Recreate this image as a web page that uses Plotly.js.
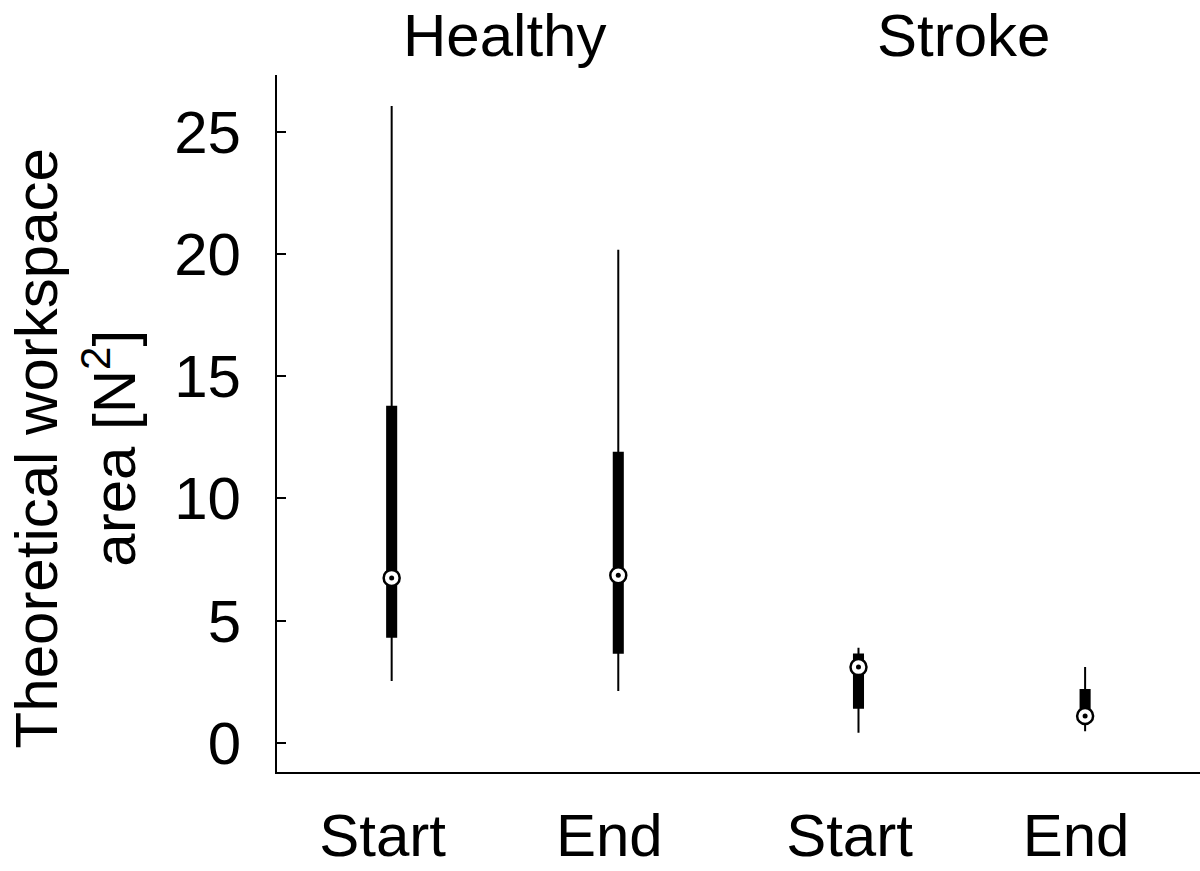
<!DOCTYPE html>
<html>
<head>
<meta charset="utf-8">
<script src="https://cdn.plot.ly/plotly-3.0.1.min.js"></script>
<style>
  html, body { margin: 0; padding: 0; background: #fff; }
  #chart { width: 1200px; height: 871px; }
</style>
</head>
<body>
<div id="chart"></div>
<script>
// group and condition labels
var groups = ["Healthy", "Stroke"];
var conditions = ["Start", "End", "Start", "End"];
var positions = [1, 2, 3.06, 4.06];

// box statistics (N^2)
var upperWhisker = [26.05, 20.17, 3.89, 3.10];
var q3 = [13.75, 11.87, 3.62, 2.16];
var medians = [6.75, 6.86, 3.10, 1.10];
var q1 = [4.34, 3.69, 1.44, 1.0];
var lowerWhisker = [2.53, 2.12, 0.42, 0.48];

var font = "Liberation Sans, Arial, Helvetica, sans-serif";

var boxes = {
  type: "box",
  x: positions,
  q1: q1,
  median: medians,
  q3: q3,
  lowerfence: lowerWhisker,
  upperfence: upperWhisker,
  width: 0.04,
  whiskerwidth: 0,
  fillcolor: "black",
  line: {color: "black", width: 2},
  boxpoints: false,
  showlegend: false,
  hoverinfo: "skip"
};

var medianRing = {
  type: "scatter",
  mode: "markers",
  x: positions,
  y: medians,
  marker: {symbol: "circle", size: 16, color: "white", line: {color: "black", width: 2.5}},
  showlegend: false,
  hoverinfo: "skip"
};

var medianDot = {
  type: "scatter",
  mode: "markers",
  x: positions,
  y: medians,
  marker: {symbol: "circle", size: 5, color: "black"},
  showlegend: false,
  hoverinfo: "skip"
};

// group headers centred over each pair
var annotations = groups.map(function (g, i) {
  return {
    text: g,
    xref: "x", yref: "paper",
    x: (positions[2 * i] + positions[2 * i + 1]) / 2,
    xshift: i === 1 ? -8 : 0,
    y: 1.056,
    xanchor: "center", yanchor: "middle",
    showarrow: false,
    font: {family: font, size: 60, color: "black"}
  };
});

annotations.push({
  text: "Theoretical workspace<br>area [N<sup>2</sup>]",
  xref: "paper", yref: "paper",
  x: -0.218, y: 0.464,
  xanchor: "center", yanchor: "middle",
  textangle: -90,
  showarrow: false,
  font: {family: font, size: 60, color: "black"}
});

var layout = {
  width: 1200,
  height: 871,
  margin: {l: 277, r: 0, t: 75, b: 99},
  paper_bgcolor: "white",
  plot_bgcolor: "white",
  font: {family: font, size: 60, color: "black"},
  xaxis: {
    range: [0.494, 4.567],
    tickmode: "array",
    tickvals: positions,
    ticktext: conditions,
    ticks: "",
    showgrid: false,
    zeroline: false,
    showline: true,
    linecolor: "black",
    linewidth: 2,
    ticklabelstandoff: 10,
    ticklabelshift: -9,
    tickfont: {family: font, size: 60, color: "black"}
  },
  yaxis: {
    range: [-1.19, 27.32],
    tickvals: [0, 5, 10, 15, 20, 25],
    ticks: "inside",
    ticklen: 9,
    tickwidth: 2,
    tickcolor: "black",
    showgrid: false,
    zeroline: false,
    showline: true,
    linecolor: "black",
    linewidth: 2,
    ticklabelstandoff: 22,
    tickfont: {family: font, size: 60, color: "black"}
  },
  annotations: annotations
};

Plotly.newPlot("chart", [boxes, medianRing, medianDot], layout, {staticPlot: true});
</script>
</body>
</html>
